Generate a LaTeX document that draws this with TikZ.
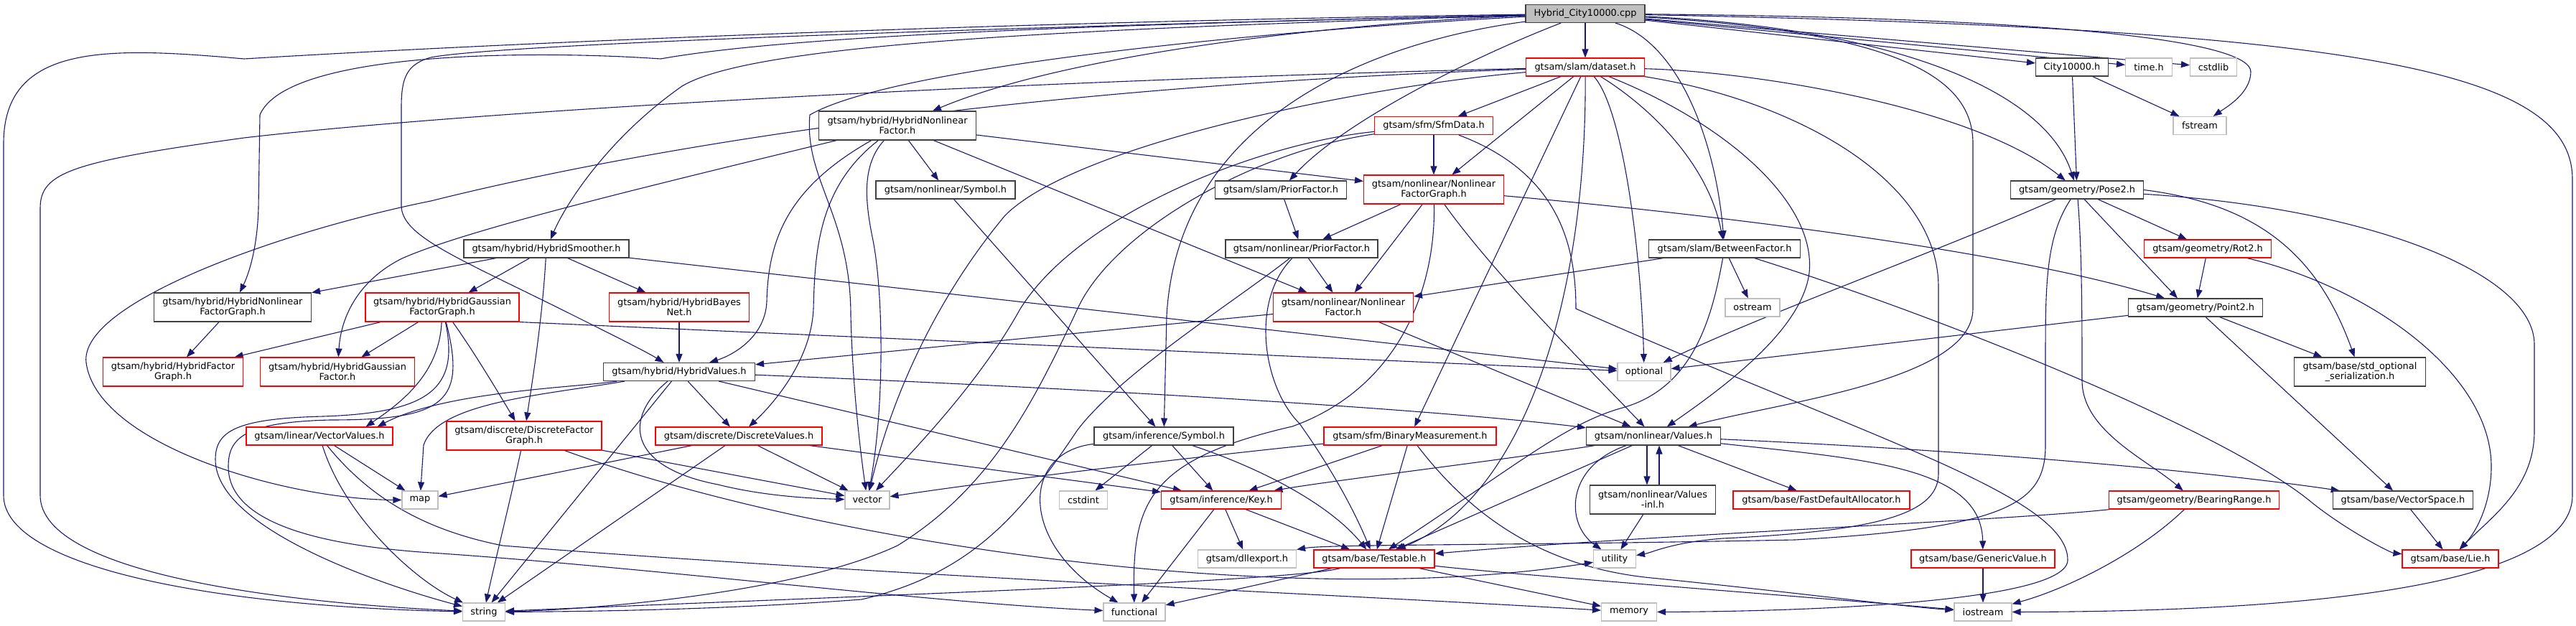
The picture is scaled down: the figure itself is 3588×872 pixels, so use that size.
\documentclass[tikz,border=0pt]{standalone}
\usepackage{fontspec}
\setmainfont{DejaVu Sans}
\usetikzlibrary{arrows.meta, backgrounds}
\definecolor{edgeblue}{HTML}{191970}
\definecolor{grey25}{HTML}{404040}
\definecolor{grey75}{HTML}{BFBFBF}

\begin{document}
\begin{tikzpicture}[x=1pt, y=-1pt,
    every node/.style={rectangle, draw=grey25, fill=white, line width=1.1pt,
      inner sep=0pt, minimum height=25pt, align=center,
      font=\fontsize{12.9}{14}\selectfont},
    trunc/.style={draw=red},
    sys/.style={draw=grey75},
    root/.style={fill=grey75},
    two/.style={minimum height=40pt},
    dep/.style={draw=edgeblue, line width=1.1pt, -{Triangle[length=12pt, width=9pt]}}]
  \useasboundingbox (0,0) rectangle (3588,872);

  \node[root, minimum width=166pt] (cpp) at (2208,19) {Hybrid\_City10000.cpp};
  \node[trunc, minimum width=165pt] (dataset) at (2208,93.5) {gtsam/slam/dataset.h};
  \node[minimum width=101pt] (city) at (2886,93.5) {City10000.h};
  \node[sys, minimum width=65pt] (timeh) at (2993,93.5) {time.h};
  \node[sys, minimum width=65pt] (cstdlib) at (3083,93.5) {cstdlib};
  \node[trunc, minimum width=165pt] (sfmdata) at (1997,175) {gtsam/sfm/SfmData.h};
  \node[two, minimum width=219pt] (hnf) at (1250,175) {gtsam/hybrid/HybridNonlinear\\Factor.h};
  \node[sys, minimum width=74pt] (fstream) at (3064,175) {fstream};
  \node[trunc, two, minimum width=195pt] (nfg) at (1997,264) {gtsam/nonlinear/Nonlinear\\FactorGraph.h};
  \node[minimum width=183pt] (slamprior) at (1784,264.5) {gtsam/slam/PriorFactor.h};
  \node[minimum width=194pt] (nlsymbol) at (1317,264.5) {gtsam/nonlinear/Symbol.h};
  \node[minimum width=185pt] (pose2) at (2893,264.5) {gtsam/geometry/Pose2.h};
  \node[minimum width=230pt] (smoother) at (761,346.5) {gtsam/hybrid/HybridSmoother.h};
  \node[minimum width=212pt] (nlprior) at (1813,346.5) {gtsam/nonlinear/PriorFactor.h};
  \node[minimum width=211pt] (between) at (2402,346.5) {gtsam/slam/BetweenFactor.h};
  \node[trunc, minimum width=177pt] (rot2) at (3075,346.5) {gtsam/geometry/Rot2.h};
  \node[two, minimum width=219pt] (hnfg) at (324,428) {gtsam/hybrid/HybridNonlinear\\FactorGraph.h};
  \node[trunc, two, minimum width=214pt] (hgfg) at (616,428) {gtsam/hybrid/HybridGaussian\\FactorGraph.h};
  \node[trunc, two, minimum width=195pt] (bayesnet) at (946,428) {gtsam/hybrid/HybridBayes\\Net.h};
  \node[trunc, two, minimum width=195pt] (nlfactor) at (1871,428) {gtsam/nonlinear/Nonlinear\\Factor.h};
  \node[sys, minimum width=76pt] (ostream) at (2441,428.5) {ostream};
  \node[minimum width=187pt] (point2) at (3058,428.5) {gtsam/geometry/Point2.h};
  \node[trunc, two, minimum width=195pt] (hfg) at (241,518) {gtsam/hybrid/HybridFactor\\Graph.h};
  \node[trunc, two, minimum width=215pt] (hgf) at (470,518) {gtsam/hybrid/HybridGaussian\\Factor.h};
  \node[minimum width=211pt] (hvalues) at (946,518) {gtsam/hybrid/HybridValues.h};
  \node[sys, minimum width=74pt] (optional) at (2290,518) {optional};
  \node[two, minimum width=183pt] (stdopt) at (3287,518) {gtsam/base/std\_optional\\\_serialization.h};
  \node[trunc, minimum width=204pt] (vvalues) at (445,607.5) {gtsam/linear/VectorValues.h};
  \node[trunc, two, minimum width=216pt] (dfg) at (730,607) {gtsam/discrete/DiscreteFactor\\Graph.h};
  \node[trunc, minimum width=232pt] (dvalues) at (1029,607.5) {gtsam/discrete/DiscreteValues.h};
  \node[minimum width=194pt] (infsymbol) at (1621,607.5) {gtsam/inference/Symbol.h};
  \node[trunc, minimum width=240pt] (binmeas) at (1964,607.5) {gtsam/sfm/BinaryMeasurement.h};
  \node[minimum width=187pt] (values) at (2303,607.5) {gtsam/nonlinear/Values.h};
  \node[sys, minimum width=50pt] (map) at (585,696.5) {map};
  \node[sys, minimum width=62pt] (vector) at (1208,696.5) {vector};
  \node[sys, minimum width=67pt] (cstdint) at (1509,696.5) {cstdint};
  \node[trunc, minimum width=167pt] (key) at (1701,696.5) {gtsam/inference/Key.h};
  \node[two, minimum width=175pt] (valuesinl) at (2302,696) {gtsam/nonlinear/Values\\-inl.h};
  \node[trunc, minimum width=246pt] (fastalloc) at (2537,696.5) {gtsam/base/FastDefaultAllocator.h};
  \node[trunc, minimum width=237pt] (bearing) at (3056,696.5) {gtsam/geometry/BearingRange.h};
  \node[minimum width=195pt] (vspace) at (3347,696.5) {gtsam/base/VectorSpace.h};
  \node[sys, minimum width=137pt] (dllexport) at (1737,778.5) {gtsam/dllexport.h};
  \node[trunc, minimum width=168pt] (testable) at (1914,778.5) {gtsam/base/Testable.h};
  \node[sys, minimum width=59pt] (utility) at (2249,778.5) {utility};
  \node[trunc, minimum width=200pt] (generic) at (2762,778.5) {gtsam/base/GenericValue.h};
  \node[trunc, minimum width=134pt] (lie) at (3413,778.5) {gtsam/base/Lie.h};
  \node[sys, minimum width=59pt] (string) at (674,852.5) {string};
  \node[sys, minimum width=86pt] (functional) at (1580,852.5) {functional};
  \node[sys, minimum width=77pt] (memory) at (2269,852.5) {memory};
  \node[sys, minimum width=80pt] (iostream) at (2762,852.5) {iostream};

  \begin{scope}[on background layer]
    \draw[dep] (cpp) -- (dataset);
    \draw[dep] (cpp) -- (city);
    \draw[dep] (cpp) -- (timeh);
    \draw[dep] (cpp) -- (cstdlib);
    \draw[dep] (cpp) .. controls (2900,25) and (3135,60) .. (3135,100) .. controls (3135,130) and (3100,150) .. (fstream);
    \draw[dep] (cpp) .. controls (3300,40) and (3583,100) .. (3583,250) -- (3583,690) .. controls (3583,800) and (3300,852) .. (iostream);
    \draw[dep] (cpp) .. controls (2650,40) and (2850,130) .. (pose2);
    \draw[dep] (cpp) .. controls (2650,45) and (2748,110) .. (2748,200) -- (2748,430) .. controls (2748,530) and (2480,560) .. (values);
    \draw[dep] (cpp) .. controls (2340,60) and (2390,200) .. (between);
    \draw[dep] (cpp) .. controls (2050,80) and (1870,170) .. (slamprior);
    \draw[dep] (cpp) .. controls (1900,60) and (1640,170) .. (1625,440) -- (infsymbol);
    \draw[dep] (cpp) .. controls (1900,30) and (1500,70) .. (hnf);
    \draw[dep] (cpp) .. controls (1800,40) and (1250,90) .. (1128,160) .. controls (1120,250) and (1185,300) .. (1185,440) .. controls (1188,550) and (1200,640) .. (vector);
    \draw[dep] (cpp) .. controls (1500,35) and (1100,50) .. (920,82) .. controls (750,70) and (400,70) .. (362,160) -- (360,290) .. controls (358,360) and (340,395) .. (hnfg);
    \draw[dep] (cpp) .. controls (1500,40) and (1050,60) .. (950,120) .. controls (850,190) and (790,280) .. (smoother);
    \draw[dep] (cpp) .. controls (1500,35) and (700,60) .. (600,80) .. controls (565,90) and (559,110) .. (559,150) -- (559,287) .. controls (560,330) and (640,360) .. (800,440) .. controls (860,470) and (900,490) .. (hvalues);
    \draw[dep] (cpp) .. controls (1400,30) and (700,60) .. (340,82) .. controls (150,65) and (5,60) .. (5,200) -- (5,690) .. controls (5,790) and (300,845) .. (string);

    \draw[dep] (dataset) -- (sfmdata);
    \draw[dep] (dataset) -- (nfg);
    \draw[dep] (dataset) -- (binmeas);
    \draw[dep] (dataset) .. controls (2210,400) and (2130,690) .. (testable);
    \draw[dep] (dataset) .. controls (2260,150) and (2286,350) .. (optional);
    \draw[dep] (dataset) .. controls (2300,150) and (2380,230) .. (between);
    \draw[dep] (dataset) .. controls (2400,170) and (2530,280) .. (2520,380) .. controls (2510,460) and (2400,540) .. (values);
    \draw[dep] (dataset) .. controls (2500,140) and (2700,250) .. (2700,400) -- (2700,660) .. controls (2700,720) and (2600,740) .. (2400,750) .. controls (2330,755) and (2300,770) .. (utility);
    \draw[dep] (dataset) .. controls (2450,100) and (2750,150) .. (pose2);
    \draw[dep] (dataset) .. controls (1500,110) and (700,150) .. (340,192) .. controls (100,225) and (56,240) .. (56,290) -- (56,690) .. controls (56,800) and (400,840) .. (string);
    \draw[dep] (dataset) .. controls (1300,125) and (800,230) .. (600,280) .. controls (400,320) and (110,420) .. (120,505) .. controls (135,620) and (400,696) .. (map);
    \draw[dep] (dataset) .. controls (1900,120) and (1500,200) .. (1400,300) .. controls (1300,420) and (1240,560) .. (vector);

    \draw[dep] (sfmdata) -- (nfg);
    \draw[dep] (sfmdata) .. controls (1750,200) and (1500,300) .. (1420,432) .. controls (1360,540) and (1260,640) .. (vector);
    \draw[dep] (sfmdata) .. controls (1750,210) and (1550,320) .. (1500,432) .. controls (1440,560) and (1380,680) .. (1250,760) .. controls (1100,830) and (800,850) .. (string);
    \draw[dep] (sfmdata) .. controls (2170,240) and (2195,340) .. (2195,430) .. controls (2600,610) and (2880,690) .. (2880,780) .. controls (2880,840) and (2500,852) .. (memory);

    \draw[dep] (nfg) -- (nlprior);
    \draw[dep] (nfg) -- (nlfactor);
    \draw[dep] (nfg) .. controls (2000,400) and (1950,540) .. (1800,594) .. controls (1600,640) and (1577,700) .. (functional);
    \draw[dep] (nfg) .. controls (2080,380) and (2200,500) .. (values);
    \draw[dep] (nfg) .. controls (2400,300) and (2800,350) .. (point2);

    \draw[dep] (slamprior) -- (nlprior);
    \draw[dep] (nlprior) -- (nlfactor);
    \draw[dep] (nlprior) .. controls (1740,420) and (1760,540) .. (1810,590) .. controls (1860,660) and (1890,720) .. (testable);
    \draw[dep] (nlprior) .. controls (1720,420) and (1560,520) .. (1500,600) .. controls (1420,720) and (1350,800) .. (1200,835) .. controls (1000,850) and (800,852) .. (string);
    \draw[dep] (nlfactor) -- (values);
    \draw[dep] (nlfactor) -- (hvalues);

    \draw[dep] (between) -- (nlfactor);
    \draw[dep] (between) -- (ostream);
    \draw[dep] (between) .. controls (2700,440) and (3100,600) .. (3220,700) .. controls (3270,740) and (3330,770) .. (lie);
    \draw[dep] (between) .. controls (2385,440) and (2360,540) .. (2260,568) .. controls (2180,590) and (2110,650) .. (testable);

    \draw[dep] (binmeas) -- (key);
    \draw[dep] (binmeas) -- (testable);
    \draw[dep] (binmeas) .. controls (2050,720) and (2150,790) .. (2300,805) .. controls (2500,825) and (2650,845) .. (iostream);
    \draw[dep] (binmeas) .. controls (1800,622) and (1450,660) .. (vector);

    \draw[dep] ([xshift=-9pt]values.south) -- ([xshift=-8pt]valuesinl.north);
    \draw[dep] ([xshift=9pt]valuesinl.north) -- ([xshift=8pt]values.south);
    \draw[dep] (values) .. controls (2180,650) and (2180,730) .. (utility);
    \draw[dep] (valuesinl) -- (utility);
    \draw[dep] (values) -- (testable);
    \draw[dep] (values) -- (fastalloc);
    \draw[dep] (values) .. controls (2600,640) and (2760,650) .. (generic);
    \draw[dep] (values) .. controls (2800,630) and (3100,660) .. (vspace);
    \draw[dep] (values) .. controls (2100,640) and (1850,670) .. (key);

    \draw[dep] (key) -- (testable);
    \draw[dep] (key) -- (dllexport);
    \draw[dep] (key) -- (functional);
    \draw[dep] (infsymbol) -- (key);
    \draw[dep] (infsymbol) -- (cstdint);
    \draw[dep] (infsymbol) .. controls (1420,630) and (1420,760) .. (functional);
    \draw[dep] (infsymbol) .. controls (1750,650) and (1850,700) .. (testable);
    \draw[dep] (nlsymbol) -- (infsymbol);

    \draw[dep] (testable) .. controls (1800,810) and (1200,830) .. (string);
    \draw[dep] (testable) -- (functional);
    \draw[dep] (testable) -- (memory);
    \draw[dep] (testable) .. controls (2100,800) and (2500,830) .. (iostream);
    \draw[dep] (generic) -- (iostream);
    \draw[dep] (bearing) .. controls (2980,770) and (2880,820) .. (iostream);
    \draw[dep] (bearing) .. controls (2800,725) and (2300,745) .. (testable);

    \draw[dep] (pose2) .. controls (2700,350) and (2450,440) .. (optional);
    \draw[dep] (pose2) .. controls (2849,330) and (2849,400) .. (2849,500) -- (2849,620) .. controls (2849,700) and (2800,735) .. (2500,752) .. controls (2100,760) and (1850,758) .. (dllexport.north east);
    \draw[dep] (pose2) .. controls (2900,350) and (2900,450) .. (2900,530) .. controls (2900,600) and (2990,640) .. (bearing);
    \draw[dep] ([xshift=10pt]pose2.south) -- ([xshift=-25pt]point2.north);
    \draw[dep] (pose2) -- (rot2);
    \draw[dep] (pose2) .. controls (3300,290) and (3530,380) .. (3530,480) -- (3530,600) .. controls (3530,680) and (3470,720) .. (lie);
    \draw[dep] (pose2.east) .. controls (3150,285) and (3230,360) .. (stdopt);
    \draw[dep] (city) -- (pose2);
    \draw[dep] (city) -- (fstream);
    \draw[dep] (rot2) -- (point2);
    \draw[dep] (rot2) .. controls (3300,400) and (3470,520) .. (3470,650) .. controls (3470,700) and (3450,740) .. (lie);
    \draw[dep] (point2) -- (stdopt);
    \draw[dep] (point2) -- (vspace);
    \draw[dep] (point2) -- (optional);
    \draw[dep] (vspace) -- (lie);

    \draw[dep] (smoother) -- (hnfg);
    \draw[dep] (smoother) -- (hgfg);
    \draw[dep] (smoother) -- (bayesnet);
    \draw[dep] (smoother) .. controls (755,450) and (740,540) .. (dfg);
    \draw[dep] (smoother) -- (optional);
    \draw[dep] (hgfg) -- (hfg);
    \draw[dep] (hgfg) -- (hgf);
    \draw[dep] (hgfg) .. controls (660,490) and (690,540) .. (dfg);
    \draw[dep] (hgfg) .. controls (612,520) and (560,560) .. ([xshift=-38pt]vvalues.north east);
    \draw[dep] (hgfg.south east) -- (optional);
    \draw[dep] (hgfg) .. controls (640,540) and (600,575) .. (450,580) .. controls (330,583) and (300,600) .. (300,640) .. controls (300,740) and (550,820) .. (string);
    \draw[dep] (hgfg) .. controls (650,560) and (620,585) .. (460,585) .. controls (340,588) and (318,610) .. (318,650) .. controls (318,730) and (450,760) .. (600,770) .. controls (900,790) and (1300,840) .. (functional);
    \draw[dep] (hnfg) -- (hfg);
    \draw[dep] (bayesnet) -- (hvalues);

    \draw[dep] (hnf) .. controls (900,260) and (650,320) .. (560,360) .. controls (500,390) and (475,440) .. (hgf);
    \draw[dep] (hnf) .. controls (1100,260) and (1070,330) .. (1068,420) .. controls (1066,470) and (1020,495) .. (hvalues);
    \draw[dep] (hnf) .. controls (1140,260) and (1135,350) .. (1133,430) .. controls (1130,500) and (1080,560) .. (dvalues);
    \draw[dep] (hnf) .. controls (1200,230) and (1205,280) .. (1215,330) .. controls (1230,400) and (1233,560) .. (vector);
    \draw[dep] (hnf) -- (nlsymbol);
    \draw[dep] (hnf) -- (nlfactor);
    \draw[dep] (hnf) -- (nfg);

    \draw[dep] (hvalues) -- (dvalues);
    \draw[dep] (hvalues) .. controls (870,580) and (870,650) .. (1000,675) .. controls (1060,690) and (1120,694) .. (vector);
    \draw[dep] (hvalues) .. controls (1500,540) and (2000,570) .. (values);
    \draw[dep] (hvalues) .. controls (800,540) and (620,545) .. ([xshift=-22pt]vvalues.north east);
    \draw[dep] (hvalues) -- (key);
    \draw[dep] (hvalues) .. controls (760,550) and (610,560) .. (590,620) -- (map);
    \draw[dep] (hvalues) -- (string);

    \draw[dep] (dvalues) -- (map);
    \draw[dep] (dvalues) -- (string);
    \draw[dep] (dvalues) -- (vector);
    \draw[dep] (dvalues) -- (key);
    \draw[dep] (dfg) .. controls (710,700) and (690,780) .. (string);
    \draw[dep] (dfg) -- (vector);
    \draw[dep] (dfg) .. controls (1150,760) and (1800,850) .. (utility);
    \draw[dep] (vvalues) -- (map);
    \draw[dep] (vvalues) .. controls (480,720) and (580,810) .. (string);
    \draw[dep] (vvalues) .. controls (520,700) and (600,740) .. (700,760) .. controls (1200,800) and (1900,830) .. (memory);
  \end{scope}
\end{tikzpicture}
\end{document}
